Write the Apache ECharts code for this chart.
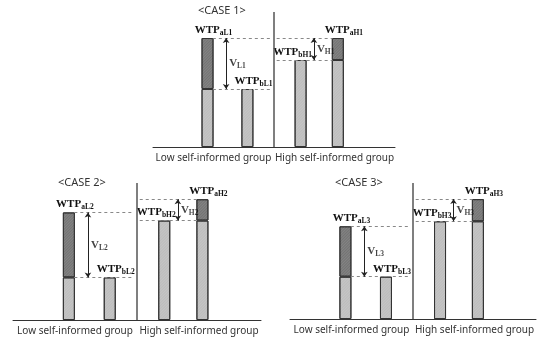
<!DOCTYPE html>
<html>
<head>
<meta charset="utf-8">
<script src="https://cdn.jsdelivr.net/npm/echarts@6/dist/echarts.min.js"></script>
<style>
html,body{margin:0;padding:0;background:#fff;}
#chart{width:550px;height:345px;}
</style>
</head>
<body>
<div id="chart"></div>
<script>
// ---- data ----
const caseTitles = ['<CASE 1>', '<CASE 2>', '<CASE 3>'];
const caseIds = ['1', '2', '3'];
const groupLabels = ['Low self-informed group', 'High self-informed group'];
const wtpAfterLow = [109, 106, 92];   // WTP_aL
const wtpBeforeLow = [58, 42, 42];    // WTP_bL
const wtpBeforeHigh = [87, 98, 97];   // WTP_bH
const wtpAfterHigh = [109, 119, 119]; // WTP_aH
const yMax = 135;

// ---- layout ----
const gridBoxes = [
  {left: 153, top: 12, width: 242, height: 135},
  {left: 13, top: 183, width: 248, height: 137},
  {left: 290, top: 183, width: 246, height: 136}
];
const titlePos = [{left: 198, top: 5}, {left: 58, top: 177}, {left: 335, top: 177}];
const SLOTS = 91;
const S = {aL: 20, vL: 27, bL: 35, div: 45, bH: 55, vH: 60, aH: 69};
const slotNames = Array.from({length: SLOTS}, (_, i) => 's' + i);

const SERIF = '"Liberation Serif", "Times New Roman", serif';
const SANS = '"Noto Sans", "Open Sans", sans-serif';
const LIGHT = '#bdbdbd', DARK = '#737373', EDGE = '#333';

const rich = {
  w: {fontFamily: SERIF, fontWeight: 'bold', fontSize: 11, color: '#111', lineHeight: 14},
  s: {fontFamily: SERIF, fontWeight: 'bold', fontSize: 7.5, color: '#111', lineHeight: 8, verticalAlign: 'bottom'}
};
function lbl(main, sub, dx) {
  return {show: true, position: 'top', distance: 1, offset: [dx, 0],
    formatter: '{w|' + main + '}{s|' + sub + '}', rich: rich};
}
const hatch = {symbol: 'rect', symbolSize: 1, dashArrayX: [1, 0], dashArrayY: [1, 1],
  rotation: -Math.PI / 4, color: 'rgba(255,255,255,0.12)'};

const grid = [], xAxis = [], yAxis = [], series = [], title = [];
for (let c = 0; c < 3; c++) {
  const g = gridBoxes[c];
  grid.push({left: g.left, top: g.top, width: g.width, height: g.height, containLabel: false});
  title.push({text: caseTitles[c], left: titlePos[c].left, top: titlePos[c].top, padding: 0,
    textStyle: {fontFamily: SANS, fontSize: 11, fontWeight: 'normal', color: '#333'}});
  xAxis.push({type: 'category', gridIndex: c, data: slotNames, boundaryGap: true,
    axisLine: {show: true, lineStyle: {color: '#333', width: 1}},
    axisTick: {show: false}, axisLabel: {show: false}, splitLine: {show: false}});
  xAxis.push({type: 'category', gridIndex: c, data: groupLabels, position: 'bottom',
    axisLine: {show: false}, axisTick: {show: false}, splitLine: {show: false},
    axisLabel: {show: true, interval: 0, hideOverlap: false, fontFamily: SANS, fontSize: 10, color: '#333', margin: 6}});
  yAxis.push({type: 'value', gridIndex: c, min: 0, max: yMax, show: false, splitLine: {show: false}});

  const aL = wtpAfterLow[c], bL = wtpBeforeLow[c], bH = wtpBeforeHigh[c], aH = wtpAfterHigh[c];
  const id = caseIds[c];
  const base = new Array(SLOTS).fill(null);
  const top = new Array(SLOTS).fill(null);
  base[S.aL] = {value: bL};
  base[S.bL] = {value: bL, label: lbl('WTP', 'bL' + id, 6)};
  base[S.bH] = {value: bH, label: lbl('WTP', 'bH' + id, -8)};
  base[S.aH] = {value: bH};
  top[S.aL] = {value: aL - bL, label: lbl('WTP', 'aL' + id, 6)};
  top[S.aH] = {value: aH - bH, label: lbl('WTP', 'aH' + id, 6)};

  const dashed = {type: [3, 3], color: '#888', width: 1};
  series.push({
    type: 'bar', xAxisIndex: 2 * c, yAxisIndex: c, stack: 'k' + c, barWidth: 12,
    data: base, silent: true,
    itemStyle: {color: LIGHT, borderColor: EDGE, borderWidth: 1, decal: hatch},
    markLine: {
      silent: true, symbol: 'none', label: {show: false}, animation: false,
      lineStyle: dashed,
      data: [
        [{coord: [S.aL + 2, aL]}, {coord: [S.div - 1, aL]}],
        [{coord: [S.aL + 2, bL]}, {coord: [S.div - 1, bL]}],
        [{coord: [S.div + 1, aH]}, {coord: [S.aH - 2, aH]}],
        [{coord: [S.div + 1, bH]}, {coord: [S.aH - 2, bH]}],
        [{coord: [S.div, 0], lineStyle: {type: 'solid', color: '#555', width: 1.5}}, {coord: [S.div, yMax]}]
      ]
    }
  });
  series.push({
    type: 'bar', xAxisIndex: 2 * c, yAxisIndex: c, stack: 'k' + c, barWidth: 12,
    data: top, silent: true,
    itemStyle: {color: DARK, borderColor: EDGE, borderWidth: 1, decal: hatch},
    markLine: {
      silent: true, symbol: ['arrow', 'arrow'], symbolSize: 5, label: {show: false}, animation: false,
      lineStyle: {type: 'solid', color: '#222', width: 1},
      data: [
        [{coord: [S.vL, aL]}, {coord: [S.vL, bL]}],
        [{coord: [S.vH, aH]}, {coord: [S.vH, bH]}]
      ]
    }
  });
  series.push({
    type: 'scatter', xAxisIndex: 2 * c, yAxisIndex: c, symbolSize: 0, silent: true,
    data: [
      {value: [S.vL, (aL + bL) / 2], label: {formatter: '{w|V}{s|L' + id + '}'}},
      {value: [S.vH, (aH + bH) / 2], label: {formatter: '{w|V}{s|H' + id + '}'}}
    ],
    label: {show: true, position: 'right', distance: 3, rich: rich}
  });
}

const chart = echarts.init(document.getElementById('chart'), null, {renderer: 'canvas'});
chart.setOption({animation: false, backgroundColor: '#fff', title, grid, xAxis, yAxis, series});
</script>
</body>
</html>
